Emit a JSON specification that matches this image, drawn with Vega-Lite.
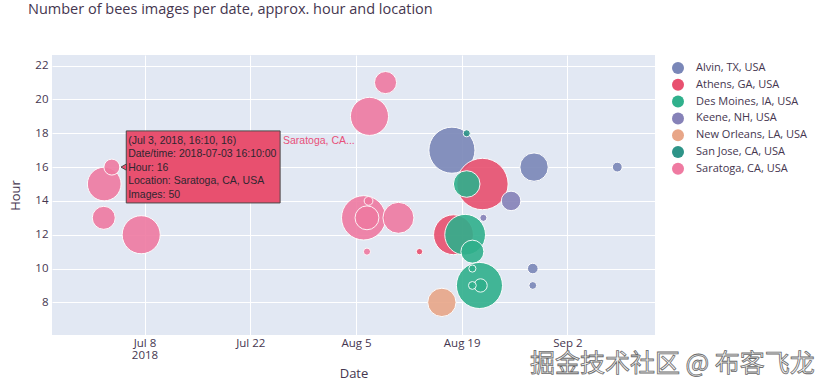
{
  "$schema": "https://vega.github.io/schema/vega-lite/v6.json",
  "autosize": {"type": "none"},
  "width": 603,
  "height": 280,
  "padding": {"left": 52, "top": 55, "right": 167, "bottom": 56},
  "background": "#ffffff",
  "title": {
    "text": "Number of bees images per date, approx. hour and location",
    "anchor": "start",
    "frame": "group",
    "dx": -24,
    "offset": 38,
    "font": "Open Sans",
    "fontSize": 14.5,
    "fontWeight": "normal",
    "color": "#45364f"
  },
  "config": {
    "view": {"stroke": null, "fill": "#e2e8f3"},
    "font": "Open Sans"
  },
  "datasets": {
    "bees": [
      {"date": "2018-08-17 17:00", "hour": 17, "location": "Alvin, TX, USA", "images": 417},
      {"date": "2018-08-28 14:00", "hour": 16, "location": "Alvin, TX, USA", "images": 158},
      {"date": "2018-09-08 14:30", "hour": 16, "location": "Alvin, TX, USA", "images": 19},
      {"date": "2018-08-28 10:00", "hour": 10, "location": "Alvin, TX, USA", "images": 22},
      {"date": "2018-08-28 10:00", "hour": 9, "location": "Alvin, TX, USA", "images": 12},
      {"date": "2018-08-21 18:00", "hour": 15, "location": "Athens, GA, USA", "images": 519},
      {"date": "2018-08-17 22:00", "hour": 12, "location": "Athens, GA, USA", "images": 312},
      {"date": "2018-08-13 10:00", "hour": 11, "location": "Athens, GA, USA", "images": 8},
      {"date": "2018-08-21 08:30", "hour": 9, "location": "Des Moines, IA, USA", "images": 417},
      {"date": "2018-08-19 11:00", "hour": 12, "location": "Des Moines, IA, USA", "images": 326},
      {"date": "2018-08-19 16:00", "hour": 15, "location": "Des Moines, IA, USA", "images": 139},
      {"date": "2018-08-20 10:00", "hour": 11, "location": "Des Moines, IA, USA", "images": 104},
      {"date": "2018-08-21 12:00", "hour": 9, "location": "Des Moines, IA, USA", "images": 35},
      {"date": "2018-08-20 10:00", "hour": 9, "location": "Des Moines, IA, USA", "images": 12},
      {"date": "2018-08-20 10:00", "hour": 10, "location": "Des Moines, IA, USA", "images": 10},
      {"date": "2018-08-25 13:00", "hour": 14, "location": "Keene, NH, USA", "images": 75},
      {"date": "2018-08-21 21:00", "hour": 13, "location": "Keene, NH, USA", "images": 10},
      {"date": "2018-08-16 09:00", "hour": 8, "location": "New Orleans, LA, USA", "images": 158},
      {"date": "2018-08-19 16:00", "hour": 18, "location": "San Jose, CA, USA", "images": 10},
      {"date": "2018-07-02 16:00", "hour": 15, "location": "Saratoga, CA, USA", "images": 223},
      {"date": "2018-07-02 14:30", "hour": 13, "location": "Saratoga, CA, USA", "images": 104},
      {"date": "2018-07-07 13:30", "hour": 12, "location": "Saratoga, CA, USA", "images": 285},
      {"date": "2018-07-03 16:10", "hour": 16, "location": "Saratoga, CA, USA", "images": 50},
      {"date": "2018-08-08 22:00", "hour": 21, "location": "Saratoga, CA, USA", "images": 96},
      {"date": "2018-08-06 19:00", "hour": 19, "location": "Saratoga, CA, USA", "images": 285},
      {"date": "2018-08-06 00:30", "hour": 13, "location": "Saratoga, CA, USA", "images": 386},
      {"date": "2018-08-10 15:00", "hour": 13, "location": "Saratoga, CA, USA", "images": 189},
      {"date": "2018-08-06 11:00", "hour": 13, "location": "Saratoga, CA, USA", "images": 112},
      {"date": "2018-08-06 16:00", "hour": 14, "location": "Saratoga, CA, USA", "images": 15},
      {"date": "2018-08-06 11:00", "hour": 11, "location": "Saratoga, CA, USA", "images": 10}
    ],
    "tipbox": [
      {"date": "2018-07-05 14:00", "date2": "2018-07-25 23:00", "hour": 18.14, "hour2": 13.88}
    ],
    "tiparrow": [
      {"date": "2018-07-05 06:00", "hour": 16}
    ],
    "tiptext": [
      {"date": "2018-07-05 20:00", "hour": 17.57, "line": "(Jul 3, 2018, 16:10, 16)"},
      {"date": "2018-07-05 20:00", "hour": 16.77, "line": "Date/time: 2018-07-03 16:10:00"},
      {"date": "2018-07-05 20:00", "hour": 15.94, "line": "Hour: 16"},
      {"date": "2018-07-05 20:00", "hour": 15.17, "line": "Location: Saratoga, CA, USA"},
      {"date": "2018-07-05 20:00", "hour": 14.34, "line": "Images: 50"}
    ],
    "tipname": [
      {"date": "2018-07-26 08:00", "hour": 17.57, "name": "Saratoga, CA..."}
    ],
    "mark": [
      {"date": "2018-08-28 01:00", "hour": 4.35, "text": "掘金技术社区 @ 布客飞龙"}
    ]
  },
  "encoding": {
    "x": {
      "field": "date", "type": "temporal", "title": "Date",
      "scale": {"domain": [{"year": 2018, "month": 6, "date": 25, "hours": 18}, {"year": 2018, "month": 9, "date": 13, "hours": 14, "minutes": 24}], "nice": false},
      "axis": {
        "values": [{"year": 2018, "month": 7, "date": 8}, {"year": 2018, "month": 7, "date": 22}, {"year": 2018, "month": 8, "date": 5}, {"year": 2018, "month": 8, "date": 19}, {"year": 2018, "month": 9, "date": 2}],
        "labelExpr": "timeFormat(datum.value, '%b %-d') == 'Jul 8' ? ['Jul 8', '2018'] : timeFormat(datum.value, '%b %-d')",
        "grid": true, "gridColor": "#ffffff", "gridWidth": 1,
        "domain": false, "ticks": false,
        "labelFont": "Open Sans", "labelFontSize": 11.5, "labelColor": "#45364f", "labelPadding": 2,
        "labelLineHeight": 12.5, "labelOverlap": false,
        "titleFont": "Open Sans", "titleFontSize": 13, "titleFontWeight": "normal", "titleColor": "#45364f", "titlePadding": 6
      }
    },
    "y": {
      "field": "hour", "type": "quantitative", "title": "Hour",
      "scale": {"domain": [6.07, 22.63], "nice": false, "zero": false},
      "axis": {
        "values": [8, 10, 12, 14, 16, 18, 20, 22],
        "grid": true, "gridColor": "#ffffff", "gridWidth": 1,
        "domain": false, "ticks": false, "labelOverlap": false,
        "labelFont": "Open Sans", "labelFontSize": 11.5, "labelColor": "#45364f", "labelPadding": 4,
        "titleFont": "Open Sans", "titleFontSize": 13, "titleFontWeight": "normal", "titleColor": "#45364f", "titlePadding": 12
      }
    }
  },
  "layer": [
    {
      "data": {"name": "bees"},
      "mark": {"type": "point", "filled": true, "shape": "circle", "opacity": 0.9, "stroke": "#ffffff", "strokeWidth": 1, "strokeOpacity": 1},
      "encoding": {
        "size": {"field": "images", "type": "quantitative", "scale": {"type": "linear", "domain": [0, 500], "range": [0, 2545]}, "legend": null},
        "color": {
          "field": "location", "type": "nominal",
          "scale": {
            "domain": ["Alvin, TX, USA", "Athens, GA, USA", "Des Moines, IA, USA", "Keene, NH, USA", "New Orleans, LA, USA", "San Jose, CA, USA", "Saratoga, CA, USA"],
            "range": ["#7a87b8", "#e8506f", "#30b08c", "#8682b8", "#e8a688", "#2e9488", "#ef7aa1"]
          },
          "legend": {
            "title": null,
            "orient": "none",
            "legendX": 620,
            "legendY": 7,
            "symbolType": "circle",
            "symbolSize": 144,
            "symbolStrokeWidth": 0,
            "symbolOpacity": 1,
            "labelFont": "Open Sans",
            "labelFontSize": 11,
            "labelColor": "#45364f",
            "labelOffset": 12,
            "rowPadding": 4.8,
            "padding": 0
          }
        }
      }
    },
    {
      "data": {"name": "tipbox"},
      "mark": {"type": "rect", "fill": "#e8506f", "stroke": "#4a4a4a", "strokeWidth": 1},
      "encoding": {
        "x2": {"field": "date2"},
        "y2": {"field": "hour2"}
      }
    },
    {
      "data": {"name": "tiparrow"},
      "mark": {"type": "point", "shape": "triangle-left", "filled": true, "fill": "#e8506f", "stroke": "#4a4a4a", "strokeWidth": 1, "size": 40, "opacity": 1},
      "encoding": {}
    },
    {
      "data": {"name": "tiptext"},
      "mark": {"type": "text", "align": "left", "baseline": "middle", "font": "Liberation Sans", "fontSize": 10.5, "color": "#2e2630"},
      "encoding": {
        "text": {"field": "line"}
      }
    },
    {
      "data": {"name": "tipname"},
      "mark": {"type": "text", "align": "left", "baseline": "middle", "font": "Liberation Sans", "fontSize": 10.5, "color": "#e8507a"},
      "encoding": {
        "text": {"field": "name"}
      }
    },
    {
      "data": {"name": "mark"},
      "mark": {"type": "text", "align": "left", "baseline": "middle", "font": "Noto Sans CJK SC", "fontSize": 25, "fill": "#f4f4f4", "stroke": "#6a6a6a", "strokeWidth": 0.8},
      "encoding": {
        "text": {"field": "text"}
      }
    }
  ]
}
